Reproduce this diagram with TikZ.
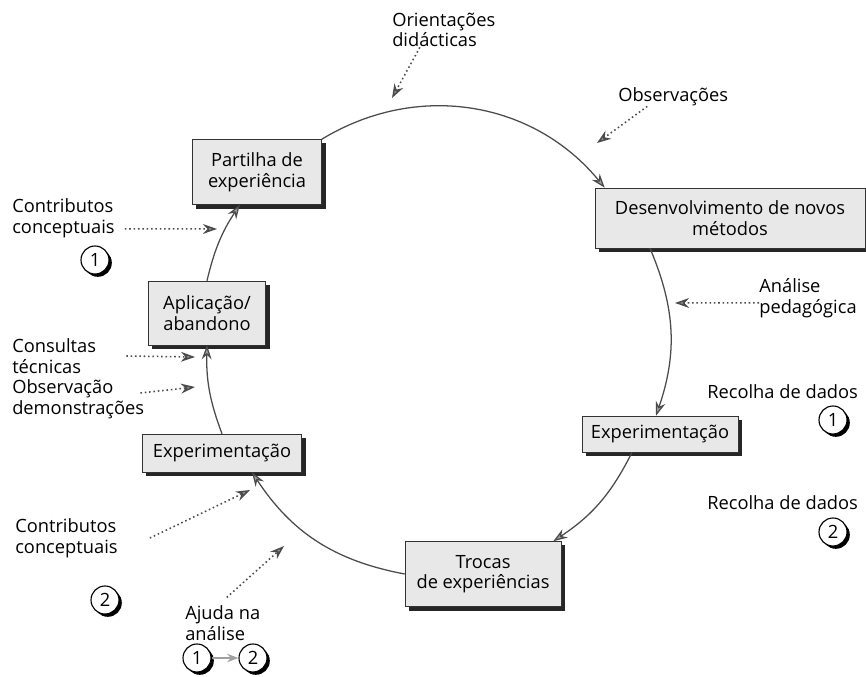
\documentclass[tikz,border=0pt]{standalone}
\usepackage{fontspec}
\setmainfont{Open Sans}
\usepackage{tikz}
\usetikzlibrary{arrows.meta, shadows}
\definecolor{boxG}{RGB}{232,232,232}
\definecolor{lineG}{RGB}{75,75,75}
\definecolor{tipG}{RGB}{160,160,160}
\tikzset{stage/.style={draw=black!80, fill=boxG, align=center, inner sep=2pt,
    drop shadow={shadow xshift=0.1cm, shadow yshift=-0.1cm, fill=black!85, opacity=1}},
  lbl/.style={anchor=west, align=left, inner sep=0pt},
  badge/.style={circle, draw=black, fill=white, line width=0.8pt, minimum size=0.7cm, inner sep=0pt,
    drop shadow={shadow xshift=0.07cm, shadow yshift=-0.07cm, fill=black, opacity=1}},
  cyc/.style={draw=lineG, line width=0.9pt, -{Stealth[length=10pt, width=7pt, fill=tipG]}},
  feed/.style={draw=lineG, dotted, line width=1.1pt, -{Stealth[length=10pt, width=7pt, fill=tipG]}}}

\begin{document}
\begin{tikzpicture}[x=0.025cm, y=-0.025cm, every node/.append style={font=\fontsize{13}{14.6}\selectfont}]
\useasboundingbox (0,0) rectangle (866,676);
% the six stages of the cycle
\node[stage, minimum width=3.225cm, minimum height=1.625cm] (part) at (257,172) {Partilha de\\experiência};
\node[stage, minimum width=6.75cm, minimum height=1.5cm] (desen) at (730,218) {Desenvolvimento de novos\\métodos};
\node[stage, minimum width=3.9cm, minimum height=0.9cm] (expr) at (660,434) {Experimentação};
\node[stage, minimum width=3.9cm, minimum height=1.625cm] (troc) at (483,574) {Trocas\\de experiências};
\node[stage, minimum width=3.975cm, minimum height=0.95cm] (expl) at (222,453) {Experimentação};
\node[stage, minimum width=2.925cm, minimum height=1.6cm] (aplic) at (207,313) {Aplicação/\\abandono};
% the cycle (clockwise)
\draw[cyc] (part.north east) to[bend left=41] ([xshift=0.25cm]desen.north west);
\draw[cyc] ([xshift=-2cm]desen.south) to[bend left=21] ([xshift=-0.1cm]expr.north);
\draw[cyc] ([xshift=-0.7cm]expr.south) to[bend left=15] ([xshift=-0.2cm]troc.north east);
\draw[cyc] (troc.west) to[bend left=23] ([xshift=0.75cm]expl.south);
\draw[cyc] (expl.north) to[bend left=11] (aplic.south);
\draw[cyc] (aplic.north) to[bend left=10] ([xshift=-0.43cm]part.south);
% outside inputs
\node[lbl] (lorient) at (392,30) {Orientações\\didácticas};
\node[lbl] (lobs) at (618,97) {Observações};
\node[lbl] (lanal) at (759,298) {Análise\\pedagógica};
\node[lbl] (lrec1) at (707,392) {Recolha de dados};
\node[lbl] (lrec2) at (707,503) {Recolha de dados};
\node[lbl] (lcc1) at (12,218) {Contributos\\conceptuais};
\node[lbl] (lcons) at (12,356) {Consultas\\técnicas};
\node[lbl] (lobsd) at (12,399) {Observação\\demonstrações};
\node[lbl] (lcc2) at (15,538) {Contributos\\conceptuais};
\node[lbl] (lajuda) at (185,623) {Ajuda na\\análise};
% numbered badges
\node[badge] (n1a) at (95,260) {1};
\node[badge] (n1b) at (833,420) {1};
\node[badge] (n2b) at (833,532) {2};
\node[badge] (n2a) at (105,600) {2};
\node[badge] (n1c) at (197,658) {1};
\node[badge] (n2c) at (253,658) {2};
\draw[draw=tipG, line width=1.3pt, -{Stealth[length=8pt, width=6pt, fill=tipG]}] (n1c) -- (n2c);
% tips of the dotted arrows
\coordinate (torient) at (392,98);
\coordinate (tobs) at (597,143);
\coordinate (tanal) at (675,303);
\coordinate (tcc1) at (217,229);
\coordinate (tcons) at (195,357);
\coordinate (tobsd) at (195,387);
\coordinate (tcc2) at (250,490);
\coordinate (tajuda) at (284,546);
\draw[feed] ([xshift=-0.6cm]lorient.south) -- (torient);
\draw[feed] ([xshift=-0.65cm]lobs.south) -- (tobs);
\draw[feed] ([yshift=-0.12cm]lanal.west) -- (tanal);
\draw[feed] ([xshift=0.25cm, yshift=-0.27cm]lcc1.east) -- (tcc1);
\draw[feed] ([xshift=0.75cm]lcons.east) -- (tcons);
\draw[feed] ([xshift=-0.1cm, yshift=0.15cm]lobsd.east) -- (tobsd);
\draw[feed] ([xshift=0.8cm]lcc2.east) -- (tcc2);
\draw[feed] ([xshift=0.1cm, yshift=0.2cm]lajuda.north) -- (tajuda);
\end{tikzpicture}
\end{document}
